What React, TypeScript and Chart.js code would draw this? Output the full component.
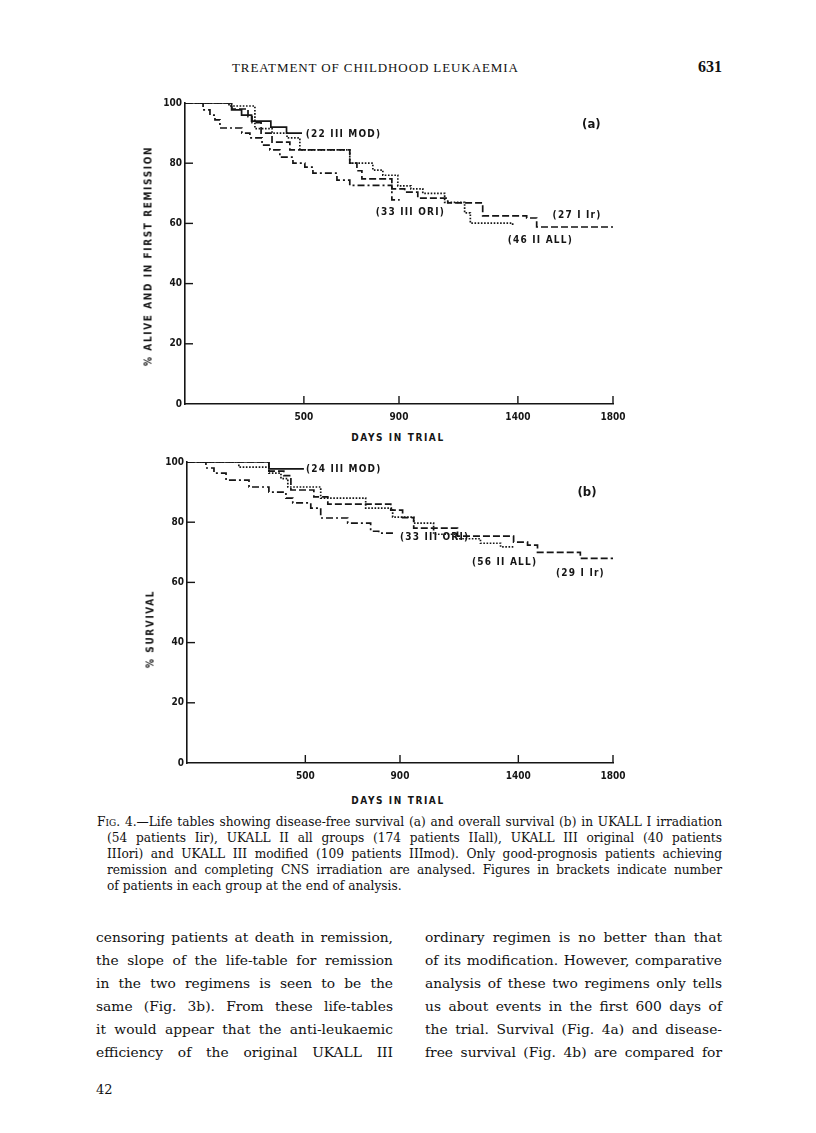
import React, { useEffect, useRef } from "react";
import { Chart, registerables } from "chart.js";
Chart.register(...registerables);

// ---- axes ----
const X_TICKS = [500, 900, 1400, 1800];
const Y_TICKS = [0, 20, 40, 60, 80, 100];

// ---- Fig. 4a : disease-free survival ----
const A_MOD_DAYS = [0, 196, 238, 280, 361, 427, 492];
const A_MOD_PCT = [100, 97.7, 96, 94, 92, 90, 90];
const A_IR_DAYS = [0, 197, 265, 282, 320, 366, 441, 693, 723, 744, 870, 924, 979, 1105, 1252, 1437, 1479, 1800];
const A_IR_PCT = [100, 98, 95.5, 93.5, 90, 87, 84.4, 80, 77.5, 74.8, 71.5, 70.4, 68.4, 66.8, 62.5, 61.8, 58.8, 58.8];
const A_ALL_DAYS = [0, 185, 294, 366, 429, 483, 693, 790, 832, 895, 950, 1000, 1092, 1176, 1200, 1378];
const A_ALL_PCT = [100, 99, 91.5, 90, 88.4, 84.4, 80, 77.7, 76, 72.5, 71.5, 70, 67, 63.5, 60.1, 59];
const A_ORI_DAYS = [0, 76, 105, 126, 147, 239, 273, 324, 357, 399, 454, 504, 538, 639, 693, 870, 903];
const A_ORI_PCT = [100, 97.7, 96, 94.4, 91.7, 90, 88.4, 86, 84.4, 82, 80, 78.7, 76.7, 74.4, 72.6, 67.8, 67.8];
const A_LABEL_TEXT = ["(22 III MOD)", "(33 III ORI)", "(27 I Ir)", "(46 II ALL)"];
const A_LABEL_DAYS = [508, 802, 1546, 1357];
const A_LABEL_PCT = [89.7, 63.8, 62.5, 54.5];

// ---- Fig. 4b : overall survival ----
const B_MOD_DAYS = [0, 346, 494];
const B_MOD_PCT = [100, 97.7, 97.7];
const B_IR_DAYS = [0, 346, 409, 439, 536, 595, 861, 911, 958, 1143, 1380, 1439, 1481, 1662, 1800];
const B_IR_PCT = [100, 97, 95.5, 90.7, 88.4, 86, 84, 81.5, 78, 75.4, 73.4, 72.4, 70, 68, 68];
const B_ALL_DAYS = [0, 219, 346, 397, 426, 565, 755, 869, 958, 1042, 1135, 1240, 1325, 1380];
const B_ALL_PCT = [100, 98.3, 96.3, 94.5, 91.7, 88, 84.7, 81.7, 79.7, 76, 74.5, 73, 71.8, 71.8];
const B_ORI_DAYS = [0, 80, 114, 165, 262, 346, 418, 447, 523, 565, 679, 776, 810, 882];
const B_ORI_PCT = [100, 98, 96.3, 94, 91.7, 90, 88, 86.4, 84.7, 81.4, 79.7, 77, 76.4, 76.4];
const B_LABEL_TEXT = ["(24 III MOD)", "(33 III ORI)", "(56 II ALL)", "(29 I Ir)"];
const B_LABEL_DAYS = [503, 900, 1204, 1559];
const B_LABEL_PCT = [97.7, 74.8, 66.8, 63.1];

const INK = "#151515";
const SANS = "'DejaVu Sans Condensed', 'Liberation Sans Narrow', 'DejaVu Sans', sans-serif";
const SERIF = "'DejaVu Serif', 'Liberation Serif', serif";

const pts = (d: number[], p: number[]) => d.map((x, i) => ({ x, y: p[i] }));

const DASH_SOLID: number[] = [];
const DASH_DASHED = [7, 3];
const DASH_DOTTED = [1.6, 1.6];
const DASH_DASHDOT = [7, 3, 2, 3];

const overlayPlugin = {
  id: "overlay",
  afterDraw(chart: any, _args: any, opts: any) {
    const { ctx, chartArea, scales } = chart;
    ctx.save();
    ctx.strokeStyle = INK;
    ctx.lineWidth = 1.4;
    for (const v of X_TICKS) {
      const x = scales.x.getPixelForValue(v);
      ctx.beginPath();
      ctx.moveTo(x, chartArea.bottom);
      ctx.lineTo(x, chartArea.bottom - 8);
      ctx.stroke();
    }
    for (const v of Y_TICKS) {
      if (v === 0 || v === 100) continue;
      const y = scales.y.getPixelForValue(v);
      ctx.beginPath();
      ctx.moveTo(chartArea.left, y);
      ctx.lineTo(chartArea.left + 8, y);
      ctx.stroke();
    }
    ctx.fillStyle = INK;
    ctx.font = `bold 10px ${SANS}`;
    ctx.textBaseline = "middle";
    ctx.textAlign = "left";
    try { (ctx as any).letterSpacing = "1.2px"; } catch (e) {}
    const texts: string[] = opts.texts || [];
    texts.forEach((t, i) => {
      ctx.fillText(t, scales.x.getPixelForValue(opts.days[i]), scales.y.getPixelForValue(opts.pct[i]));
    });
    try { (ctx as any).letterSpacing = "0px"; } catch (e) {}
    ctx.font = `bold 13px ${SANS}`;
    ctx.fillText(opts.panel, scales.x.getPixelForValue(opts.panelX), scales.y.getPixelForValue(opts.panelY));
    ctx.restore();
  },
};

type Series = { days: number[]; pct: number[]; dash: number[] };

function KMChart(props: {
  series: Series[];
  texts: string[];
  days: number[];
  pct: number[];
  panel: string;
  panelX: number;
  panelY: number;
  left: number;
  top: number;
  width: number;
  height: number;
  padTop: number;
}) {
  const ref = useRef<HTMLCanvasElement | null>(null);
  useEffect(() => {
    if (!ref.current) return;
    const tickFont = { family: SANS, size: 10, weight: "bold" as const };
    const chart = new Chart(ref.current, {
      type: "line",
      data: {
        datasets: props.series.map((s) => ({
          data: pts(s.days, s.pct),
          borderColor: INK,
          borderWidth: 1.7,
          borderDash: s.dash,
          stepped: "before" as const,
          pointRadius: 0,
          fill: false,
        })),
      },
      options: {
        animation: false,
        responsive: false,
        maintainAspectRatio: false,
        layout: { padding: { top: props.padTop, right: 27, left: 0, bottom: 0 } },
        plugins: {
          legend: { display: false },
          tooltip: { enabled: false },
          overlay: {
            texts: props.texts,
            days: props.days,
            pct: props.pct,
            panel: props.panel,
            panelX: props.panelX,
            panelY: props.panelY,
          },
        } as any,
        scales: {
          x: {
            type: "linear",
            min: 0,
            max: 1800,
            afterBuildTicks: (s: any) => {
              s.ticks = X_TICKS.map((v) => ({ value: v }));
            },
            afterFit: (s: any) => {
              s.height = 26;
            },
            grid: { display: false, drawTicks: false },
            border: { display: true, color: INK, width: 1.6 },
            ticks: {
              padding: 7,
              color: INK,
              font: tickFont,
              maxRotation: 0,
              autoSkip: false,
              callback: (v: any) => String(v),
            },
          },
          y: {
            type: "linear",
            min: 0,
            max: 100,
            afterBuildTicks: (s: any) => {
              s.ticks = Y_TICKS.map((v) => ({ value: v }));
            },
            afterFit: (s: any) => {
              s.width = 65;
            },
            grid: { display: false, drawTicks: false },
            border: { display: true, color: INK, width: 1.6 },
            ticks: { padding: 3, color: INK, font: tickFont, callback: (v: any) => String(v) },
          },
        },
      },
      plugins: [overlayPlugin],
    });
    return () => chart.destroy();
  }, []);
  return (
    <canvas
      ref={ref}
      width={props.width}
      height={props.height}
      style={{ position: "absolute", left: props.left, top: props.top, width: props.width, height: props.height }}
    />
  );
}

const axisTitle: React.CSSProperties = {
  position: "absolute",
  fontFamily: SANS,
  fontWeight: "bold",
  fontSize: 10,
  letterSpacing: "1.6px",
  color: INK,
  whiteSpace: "nowrap",
};

function Rotated(props: { text: string; cx: number; cy: number }) {
  return (
    <div
      style={{
        ...axisTitle,
        left: props.cx,
        top: props.cy,
        transform: "translate(-50%, -50%) rotate(-90deg)",
        transformOrigin: "center center",
      }}
    >
      {props.text}
    </div>
  );
}

function Horizontal(props: { text: string; cx: number; cy: number }) {
  return (
    <div style={{ ...axisTitle, left: props.cx, top: props.cy, transform: "translate(-50%, -50%)" }}>{props.text}</div>
  );
}

function JLine(props: { left: number; top: number; width: number; size: number; lh: number; last?: boolean; children: any }) {
  return (
    <div
      style={{
        position: "absolute",
        left: props.left,
        top: props.top,
        width: props.width,
        fontFamily: SERIF,
        fontSize: props.size,
        lineHeight: props.lh + "px",
        textAlign: props.last ? "left" : "justify",
        textAlignLast: props.last ? "left" : "justify",
        whiteSpace: "nowrap",
        color: "#111",
      } as React.CSSProperties}
    >
      {props.children}
    </div>
  );
}

const CAPTION_LINES = [
  "(54 patients Iir), UKALL II all groups (174 patients IIall), UKALL III original (40 patients",
  "IIIori) and UKALL III modified (109 patients IIImod). Only good-prognosis patients achieving",
  "remission and completing CNS irradiation are analysed. Figures in brackets indicate number",
];
const LEFT_COL = [
  "censoring patients at death in remission,",
  "the slope of the life-table for remission",
  "in the two regimens is seen to be the",
  "same (Fig. 3b). From these life-tables",
  "it would appear that the anti-leukaemic",
  "efficiency of the original UKALL III",
];
const RIGHT_COL = [
  "ordinary regimen is no better than that",
  "of its modification. However, comparative",
  "analysis of these two regimens only tells",
  "us about events in the first 600 days of",
  "the trial. Survival (Fig. 4a) and disease-",
  "free survival (Fig. 4b) are compared for",
];

export default function App() {
  const seriesA: Series[] = [
    { days: A_MOD_DAYS, pct: A_MOD_PCT, dash: DASH_SOLID },
    { days: A_IR_DAYS, pct: A_IR_PCT, dash: DASH_DASHED },
    { days: A_ALL_DAYS, pct: A_ALL_PCT, dash: DASH_DOTTED },
    { days: A_ORI_DAYS, pct: A_ORI_PCT, dash: DASH_DASHDOT },
  ];
  const seriesB: Series[] = [
    { days: B_MOD_DAYS, pct: B_MOD_PCT, dash: DASH_SOLID },
    { days: B_IR_DAYS, pct: B_IR_PCT, dash: DASH_DASHED },
    { days: B_ALL_DAYS, pct: B_ALL_PCT, dash: DASH_DOTTED },
    { days: B_ORI_DAYS, pct: B_ORI_PCT, dash: DASH_DASHDOT },
  ];
  return (
    <div style={{ position: "absolute", left: 0, top: 0, width: 816, height: 1133, background: "#fff", overflow: "hidden" }}>
      <div style={{ position: "absolute", left: 232, top: 60, fontFamily: "'Liberation Serif', serif", fontSize: 13, letterSpacing: "0.9px", color: "#111", whiteSpace: "nowrap" }}>
        TREATMENT OF CHILDHOOD LEUKAEMIA
      </div>
      <div style={{ position: "absolute", left: 698, top: 58, fontFamily: "'Liberation Serif', serif", fontSize: 16, fontWeight: "bold", color: "#111" }}>631</div>

      <KMChart
        series={seriesA}
        texts={A_LABEL_TEXT}
        days={A_LABEL_DAYS}
        pct={A_LABEL_PCT}
        panel="(a)"
        panelX={1670}
        panelY={92.7}
        left={120}
        top={90}
        width={520}
        height={340}
        padTop={13}
      />
      <Rotated text="% ALIVE AND IN FIRST REMISSION" cx={148} cy={256} />
      <Horizontal text="DAYS IN TRIAL" cx={398} cy={437} />

      <KMChart
        series={seriesB}
        texts={B_LABEL_TEXT}
        days={B_LABEL_DAYS}
        pct={B_LABEL_PCT}
        panel="(b)"
        panelX={1650}
        panelY={89.7}
        left={122}
        top={450}
        width={518}
        height={339}
        padTop={12}
      />
      <Rotated text="% SURVIVAL" cx={150} cy={629} />
      <Horizontal text="DAYS IN TRIAL" cx={398} cy={800} />

      <JLine left={97} top={814} width={625} size={12.2} lh={16}>
        <span style={{ fontVariant: "small-caps" }}>Fig</span>. 4.—Life tables showing disease-free survival (a) and overall survival (b) in UKALL I irradiation
      </JLine>
      {CAPTION_LINES.map((t, i) => (
        <JLine key={"c" + i} left={107} top={830 + i * 16} width={615} size={12.2} lh={16}>
          {t}
        </JLine>
      ))}
      <JLine left={107} top={878} width={615} size={12.2} lh={16} last>
        of patients in each group at the end of analysis.
      </JLine>

      {LEFT_COL.map((t, i) => (
        <JLine key={"l" + i} left={96} top={926 + i * 23} width={297} size={13.8} lh={23}>
          {t}
        </JLine>
      ))}
      {RIGHT_COL.map((t, i) => (
        <JLine key={"r" + i} left={425} top={926 + i * 23} width={297} size={13.8} lh={23}>
          {t}
        </JLine>
      ))}
      <div style={{ position: "absolute", left: 96, top: 1082, fontFamily: SERIF, fontSize: 13, color: "#111" }}>42</div>
    </div>
  );
}
